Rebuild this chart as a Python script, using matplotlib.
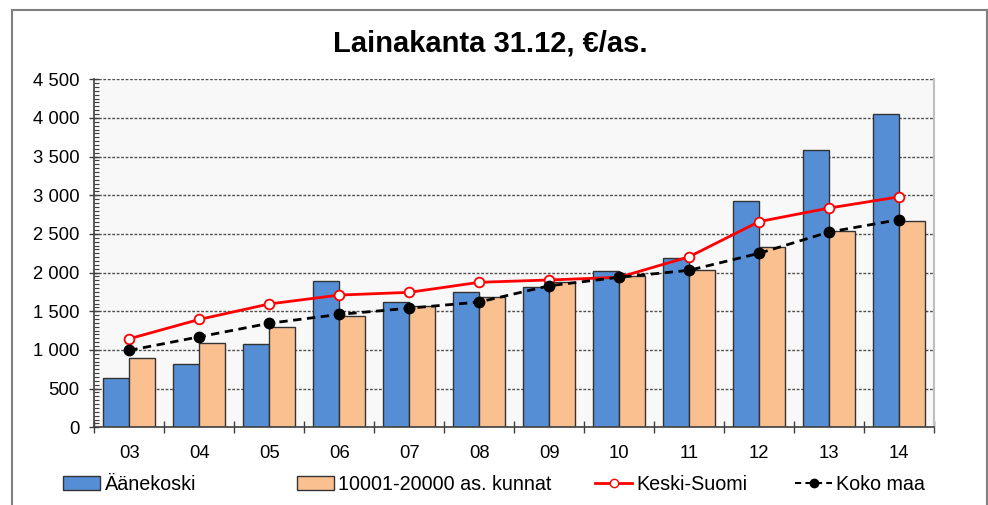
import numpy as np
import matplotlib
matplotlib.use("Agg")
import matplotlib.pyplot as plt
from matplotlib.lines import Line2D
from matplotlib.patches import Patch
from matplotlib.ticker import MultipleLocator, FuncFormatter, FixedLocator

plt.rcParams['font.family'] = ['Liberation Sans', 'DejaVu Sans']

# Data
years = ['03', '04', '05', '06', '07', '08', '09', '10', '11', '12', '13', '14']
aanekoski = [640, 815, 1075, 1890, 1615, 1745, 1820, 2020, 2195, 2920, 3585, 4050]
kunnat = [900, 1085, 1295, 1440, 1570, 1690, 1885, 1960, 2030, 2325, 2540, 2670]
keski_suomi = [1145, 1395, 1595, 1710, 1745, 1875, 1905, 1940, 2205, 2660, 2835, 2980]
koko_maa = [995, 1170, 1345, 1460, 1540, 1620, 1830, 1940, 2030, 2250, 2525, 2685]

W, H = 988, 505
fig = plt.figure(figsize=(W / 100, H / 100), dpi=100)
ax = fig.add_axes([94.3 / W, 1 - 427.3 / H, (934 - 94.3) / W, (427.3 - 79.3) / H])
ax.set_facecolor('#F8F8F8')

x = np.arange(len(years))
bw = 0.37
ax.bar(x - bw / 2, aanekoski, bw, color='#558ED5', edgecolor='#333333', lw=1, zorder=2)
ax.bar(x + bw / 2, kunnat, bw, color='#FAC090', edgecolor='#333333', lw=1, zorder=2)
ax.plot(x, keski_suomi, color='#FF0000', lw=2, marker='o', ms=7,
        mfc='white', mec='#FF0000', mew=1.3, zorder=3)
ax.plot(x, koko_maa, color='black', lw=2, ls=(0, (3, 2)), marker='o', ms=7.5,
        mfc='black', mec='black', zorder=4)

ax.set_xlim(-0.5, len(years) - 0.5)
ax.set_ylim(0, 4500)

# y axis
ax.yaxis.set_major_locator(MultipleLocator(500))
ax.yaxis.set_minor_locator(MultipleLocator(50))
ax.yaxis.set_major_formatter(FuncFormatter(lambda v, p: f"{int(v):,}".replace(",", " ")))
ax.tick_params(axis='y', which='major', direction='inout', length=7, width=1,
               color='#404040', labelsize=13.3, pad=7)
ax.tick_params(axis='y', which='minor', direction='in', length=3.6, width=0.8, color='#404040')
ax.yaxis.grid(True, which='major', ls=(0, (2, 1.2)), color='#505050', lw=1)
ax.set_axisbelow(True)

# x axis
ax.xaxis.set_major_locator(FixedLocator(np.arange(-0.5, len(years), 1.0)))
ax.xaxis.set_major_formatter(FuncFormatter(lambda v, p: ''))
ax.xaxis.set_minor_locator(FixedLocator(x))
ax.set_xticklabels(years, minor=True)
ax.tick_params(axis='x', which='major', direction='inout', length=8, width=1, color='#404040')
ax.tick_params(axis='x', which='minor', length=0, labelsize=13.3, pad=13)

for s in ['left', 'bottom']:
    ax.spines[s].set_color('#404040')
    ax.spines[s].set_linewidth(1.2)
ax.spines['top'].set_visible(False)
ax.spines['right'].set_color('#BFBFBF')
ax.spines['right'].set_linewidth(1.5)

fig.text(490 / W, 1 - 43 / H, 'Lainakanta 31.12, €/as.', ha='center', va='center',
         fontsize=21, fontweight='bold')

# outer frame
fc = '#808080'
fig.add_artist(Line2D([12 / W, 12 / W], [0, 1 - 10 / H], color=fc, lw=1.5))
fig.add_artist(Line2D([12 / W, 986.5 / W], [1 - 10 / H, 1 - 10 / H], color=fc, lw=1.5))
fig.add_artist(Line2D([986.5 / W, 986.5 / W], [0, 1 - 10 / H], color=fc, lw=1.5))

# legend
handles = [
    Patch(facecolor='#558ED5', edgecolor='#333333', lw=1),
    Patch(facecolor='#FAC090', edgecolor='#333333', lw=1),
    Line2D([], [], color='#FF0000', lw=2, marker='o', ms=6, mfc='white', mec='#FF0000'),
    Line2D([], [], color='black', lw=1.5, ls=(0, (3, 2)), marker='o', ms=6, mfc='black'),
]
labels = ['Äänekoski', '10001-20000 as. kunnat', 'Keski-Suomi', 'Koko maa']
xpos = [63, 297, 595, 795]
for h, l, xp in zip(handles, labels, xpos):
    fig.legend([h], [l], loc='center left', bbox_to_anchor=(xp / W, 1 - 484 / H),
               frameon=False, borderpad=0, borderaxespad=0, handlelength=1.9,
               handletextpad=0.2, fontsize=14.2)

fig.savefig('out.png', dpi=100)
